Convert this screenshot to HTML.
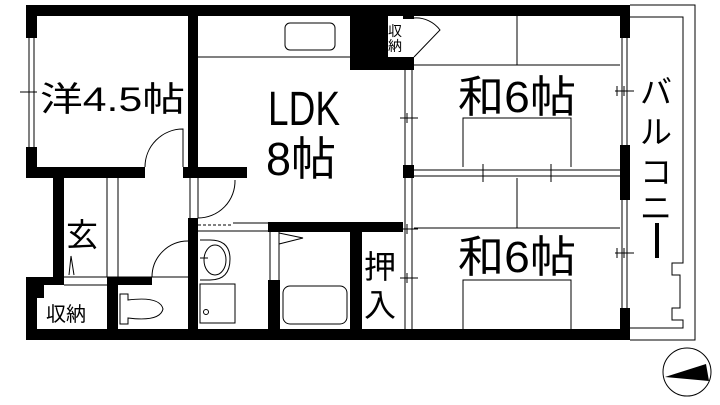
<!DOCTYPE html>
<html><head><meta charset="utf-8"><style>
html,body{margin:0;padding:0;background:#fff;}
svg{display:block}
text{font-family:"Liberation Sans","Noto Sans CJK JP",sans-serif;fill:#000}
</style></head><body>
<svg width="720" height="405" viewBox="0 0 720 405" xmlns="http://www.w3.org/2000/svg">
<rect width="720" height="405" fill="#fff"/>
<g fill="none" stroke="#000" stroke-width="1">
<path d="M630 5 H695 V340 H630"/>
<path d="M630 17 H683 V263 H672 V275 H680 V308 H672 V320 H683 V328 H630"/>
<line x1="29" y1="38" x2="29" y2="147"/><line x1="34" y1="38" x2="34" y2="147"/>
<line x1="20" y1="92" x2="37" y2="92"/>
<line x1="622" y1="38" x2="622" y2="145"/><line x1="627" y1="38" x2="627" y2="145"/>
<line x1="622" y1="200" x2="622" y2="308"/><line x1="627" y1="200" x2="627" y2="308"/>
<line x1="615" y1="91" x2="634" y2="91"/><line x1="617" y1="86" x2="617" y2="96"/><line x1="624" y1="86" x2="624" y2="96"/>
<line x1="615" y1="253" x2="634" y2="253"/><line x1="617" y1="248" x2="617" y2="258"/><line x1="624" y1="248" x2="624" y2="258"/>
<line x1="405" y1="70" x2="405" y2="330"/><line x1="412" y1="70" x2="412" y2="330"/>
<line x1="400" y1="118" x2="418" y2="118"/><line x1="407" y1="113" x2="407" y2="123"/>
<line x1="400" y1="229" x2="418" y2="229"/><line x1="407" y1="224" x2="407" y2="234"/>
<line x1="400" y1="278" x2="418" y2="278"/><line x1="407" y1="273" x2="407" y2="283"/>
<line x1="414" y1="170" x2="620" y2="170"/><line x1="414" y1="176" x2="620" y2="176"/>
<line x1="483" y1="164" x2="483" y2="182"/><line x1="551" y1="164" x2="551" y2="182"/>
<line x1="517" y1="16" x2="517" y2="65"/><line x1="414" y1="65" x2="620" y2="65"/>
<path d="M463 167 V118 H571 V167"/>
<line x1="517" y1="178" x2="517" y2="228"/><line x1="414" y1="228" x2="620" y2="228"/>
<path d="M463 329 V280 H571 V329"/>
<path d="M414 18 A30 30 0 0 1 440 30 L414 57"/>
<line x1="198" y1="57" x2="350" y2="57"/>
<rect x="285" y="23" width="50" height="27" rx="5"/>
<path d="M145 167 A38 38 0 0 1 183 129 V167"/>
<line x1="190" y1="178" x2="190" y2="218"/><line x1="198" y1="178" x2="198" y2="218"/>
<path d="M235 180 A37 37 0 0 1 198 218"/>
<line x1="107" y1="178" x2="107" y2="277"/><line x1="118" y1="178" x2="118" y2="277"/>
<line x1="64" y1="277" x2="188" y2="277"/><line x1="64" y1="285" x2="107" y2="285"/>
<path d="M69 275 L71 256 L74 275"/>
<path d="M152 277 A36 36 0 0 1 188 241"/>
<path d="M120 294 H128 V300 Q160 296 163 309 Q160 322 128 318 V324 H120 Z"/>
<path d="M200 240 H210 Q230 240 230 259 Q230 280 210 280 H200"/>
<ellipse cx="215" cy="260" rx="11" ry="15"/>
<line x1="200" y1="258" x2="208" y2="258"/>
<rect x="200" y="284" width="35" height="39"/>
<circle cx="206" cy="312" r="2.5"/>
<line x1="198" y1="225" x2="233" y2="225" stroke-dasharray="3 2"/>
<line x1="198" y1="231" x2="233" y2="231"/>
<line x1="233" y1="223" x2="268" y2="223"/><line x1="233" y1="231" x2="268" y2="231"/>
<line x1="270" y1="232" x2="270" y2="280"/><line x1="279" y1="232" x2="279" y2="280"/>
<path d="M279 233 L303 238 L279 244"/>
<rect x="283" y="286" width="64" height="38" rx="7"/>
<circle cx="687" cy="372" r="24"/>
</g>
<path d="M665 377 L706 364 L709 381 Z" fill="#000"/>
<g fill="#000">
<rect x="26" y="5" width="604" height="11"/>
<rect x="26" y="329" width="604" height="11"/>
<rect x="26" y="5" width="11" height="33"/>
<rect x="26" y="147" width="11" height="31"/>
<rect x="620" y="5" width="10" height="33"/>
<rect x="620" y="145" width="10" height="55"/>
<rect x="620" y="308" width="10" height="32"/>
<rect x="188" y="16" width="10" height="162"/>
<rect x="26" y="167" width="119" height="11"/>
<rect x="183" y="167" width="64" height="11"/>
<rect x="350" y="16" width="38" height="54"/>
<rect x="388" y="57" width="26" height="13"/>
<rect x="403" y="16" width="11" height="3"/>
<rect x="403" y="165" width="11" height="13"/>
<rect x="53" y="178" width="11" height="99"/>
<rect x="26" y="277" width="38" height="8"/>
<rect x="26" y="277" width="11" height="63"/>
<rect x="26" y="285" width="18" height="13"/>
<rect x="107" y="277" width="45" height="8"/>
<rect x="107" y="285" width="11" height="45"/>
<rect x="188" y="218" width="10" height="112"/>
<rect x="268" y="222" width="135" height="10"/>
<rect x="268" y="280" width="12" height="50"/>
<rect x="350" y="232" width="12" height="98"/>
</g>
<text x="40" y="111" font-size="34" textLength="145" lengthAdjust="spacingAndGlyphs">洋4.5帖</text>
<text x="268" y="125" font-size="48" textLength="72" lengthAdjust="spacingAndGlyphs">LDK</text>
<text x="266" y="175" font-size="46" textLength="70" lengthAdjust="spacingAndGlyphs">8帖</text>
<text x="458" y="112" font-size="44" textLength="118" lengthAdjust="spacingAndGlyphs">和6帖</text>
<text x="458" y="272" font-size="44" textLength="118" lengthAdjust="spacingAndGlyphs">和6帖</text>
<text x="66" y="246" font-size="32">玄</text>
<text x="46" y="321" font-size="20">収納</text>
<text x="388" y="36" font-size="14">収</text>
<text x="388" y="51" font-size="14">納</text>
<text x="364" y="278" font-size="32">押</text>
<text x="364" y="316" font-size="32">入</text>
<g font-size="32">
<text x="640" y="103">バ</text>
<text x="640" y="143">ル</text>
<text x="640" y="183">コ</text>
<text x="640" y="219">ニ</text>
</g>
<rect x="655" y="223" width="4" height="35" fill="#000"/>
</svg>
</body></html>
